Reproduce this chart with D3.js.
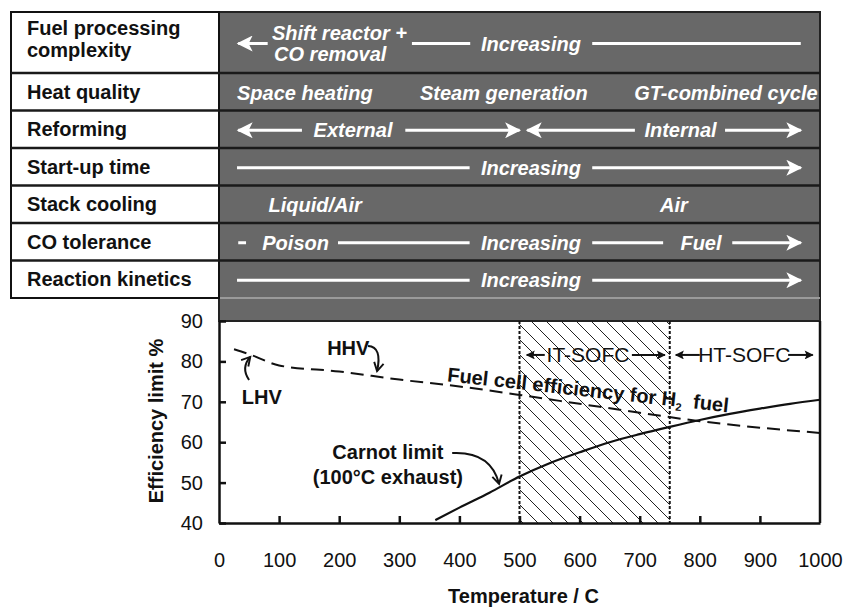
<!DOCTYPE html>
<html>
<head>
<meta charset="utf-8">
<script src="https://cdn.jsdelivr.net/npm/d3@7"></script>
<style>
  body { margin: 0; background: #fff; }
  svg { display: block; font-family: "Liberation Sans", Arial, sans-serif; }
</style>
</head>
<body>
<svg width="844" height="608"></svg>
<script>
// values
const temperature = [25, 50, 100, 200, 300, 400, 500, 600, 700, 800, 900, 1000];
const fuelCellEfficiency = [83, 81.8, 79, 77.5, 75.5, 73.8, 71.7, 69.5, 67.3, 65.2, 63.6, 62.3];
const carnotTemperature = [360, 400, 450, 500, 550, 600, 650, 700, 750, 800, 850, 900, 950, 1000];
const carnotEfficiency = [40.7, 43.8, 47.5, 51.5, 54.8, 57.5, 60, 62, 63.8, 65.5, 67, 68.3, 69.5, 70.5];
const xTicks = [0, 100, 200, 300, 400, 500, 600, 700, 800, 900, 1000];
const yTicks = [40, 50, 60, 70, 80, 90];
const itSofc = [500, 750];
const htSofc = [750, 1000];
const properties = ["Fuel processing|complexity", "Heat quality", "Reforming", "Start-up time",
                    "Stack cooling", "CO tolerance", "Reaction kinetics"];

// what sits in each row of the grey band (positions in °C, along the x axis)
const bandRows = [
  [{ arrow: [81, 32] }, { text: "Shift reactor +", t: 88, a: "start", line: -1 },
   { text: "CO removal", t: 185, a: "middle", line: 1 },
   { seg: [321, 418] }, { text: "Increasing", t: 519 }, { seg: [621, 968] }],
  [{ text: "Space heating", t: 30, a: "start" }, { text: "Steam generation", t: 474 },
   { text: "GT-combined cycle", t: 996, a: "end" }],
  [{ arrow: [138, 32] }, { text: "External", t: 223 }, { arrow: [310, 500] },
   { arrow: [692, 513] }, { text: "Internal", t: 768 }, { arrow: [842, 968] }],
  [{ seg: [30, 417] }, { text: "Increasing", t: 519 }, { arrow: [621, 968] }],
  [{ text: "Liquid/Air", t: 160 }, { text: "Air", t: 757 }],
  [{ seg: [32, 45] }, { text: "Poison", t: 72, a: "start" }, { seg: [198, 417] },
   { text: "Increasing", t: 519 }, { seg: [621, 739] }, { text: "Fuel", t: 802 }, { arrow: [854, 968] }],
  [{ seg: [30, 417] }, { text: "Increasing", t: 519 }, { arrow: [621, 968] }]
];

const svg = d3.select("svg");
const x = d3.scaleLinear().domain([0, 1000]).range([219, 820]);
const y = d3.scaleLinear().domain([40, 90]).range([523, 321]);

const tableLeft = 11, tableTop = 12, tableBottom = 298;
const rowTop = i => i === 0 ? tableTop : 73 + (i - 1) * 37.5;
const rowBottom = i => i === properties.length - 1 ? tableBottom : rowTop(i + 1);
const rowMid = i => (rowTop(i) + rowBottom(i)) / 2;

const defs = svg.append("defs");
defs.append("marker").attr("id", "whiteHead")
  .attr("viewBox", "0 0 10 10").attr("refX", 9).attr("refY", 5)
  .attr("markerUnits", "userSpaceOnUse").attr("markerWidth", 21).attr("markerHeight", 16)
  .attr("orient", "auto")
  .append("path").attr("d", "M0,0 L10,5 L0,10 L2.5,5 z").attr("fill", "#fff");
defs.append("marker").attr("id", "blackHead")
  .attr("viewBox", "0 0 10 10").attr("refX", 9).attr("refY", 5)
  .attr("markerUnits", "userSpaceOnUse").attr("markerWidth", 10).attr("markerHeight", 9)
  .attr("orient", "auto")
  .append("path").attr("d", "M0,0 L10,5 L0,10 L2,5 z").attr("fill", "#111");
defs.append("marker").attr("id", "openHead")
  .attr("viewBox", "0 0 10 10").attr("refX", 8).attr("refY", 5)
  .attr("markerUnits", "userSpaceOnUse").attr("markerWidth", 12).attr("markerHeight", 12)
  .attr("orient", "auto")
  .append("path").attr("d", "M1,1 L8,5 L1,9").attr("fill", "none")
  .attr("stroke", "#111").attr("stroke-width", 1.6);
const hatch = defs.append("pattern").attr("id", "hatch")
  .attr("patternUnits", "userSpaceOnUse").attr("width", 15).attr("height", 15);
hatch.append("path").attr("d", "M-2,-2 L17,17 M-8,7 L8,23 M7,-8 L23,8")
  .attr("stroke", "#222").attr("stroke-width", 1);

// ---- grey band with the trend rows
svg.append("rect")
  .attr("x", x(0)).attr("y", tableTop).attr("width", x(1000) - x(0)).attr("height", y(90) - tableTop)
  .attr("fill", "#686868").attr("stroke", "#222").attr("stroke-width", 2);
svg.append("line")
  .attr("x1", x(0)).attr("x2", x(1000)).attr("y1", tableBottom).attr("y2", tableBottom)
  .attr("stroke", "#9a9a9a").attr("stroke-width", 2);

// left column
svg.append("rect")
  .attr("x", tableLeft).attr("y", tableTop).attr("width", x(0) - tableLeft).attr("height", tableBottom - tableTop)
  .attr("fill", "#fff").attr("stroke", "#111").attr("stroke-width", 2);

properties.forEach((p, i) => {
  if (i > 0) {
    svg.append("line").attr("x1", tableLeft).attr("x2", x(1000))
      .attr("y1", rowTop(i)).attr("y2", rowTop(i))
      .attr("stroke", "#1a1a1a").attr("stroke-width", 2.5);
  }
  const lines = p.split("|");
  lines.forEach((s, k) => {
    const off = lines.length > 1 ? (k === 0 ? -14.5 : 7.5) : 0;
    svg.append("text")
      .attr("x", tableLeft + 16)
      .attr("y", rowMid(i) + off + 7)
      .attr("font-size", 20).attr("font-weight", "bold").attr("fill", "#111")
      .text(s);
  });
});

bandRows.forEach((items, i) => {
  const cy = rowMid(i) + 1;
  items.forEach(d => {
    if (d.text) {
      svg.append("text")
        .attr("x", x(d.t)).attr("y", cy + 7 + (d.line || 0) * 10.5)
        .attr("text-anchor", d.a || "middle")
        .attr("font-size", 20).attr("font-weight", "bold").attr("font-style", "italic")
        .attr("fill", "#fff").text(d.text);
    } else {
      const r = d.seg || d.arrow;
      svg.append("line")
        .attr("x1", x(r[0])).attr("x2", x(r[1])).attr("y1", cy).attr("y2", cy)
        .attr("stroke", "#fff").attr("stroke-width", 3)
        .attr("marker-end", d.arrow ? "url(#whiteHead)" : null);
    }
  });
});

// ---- plot
svg.append("rect")
  .attr("x", x(itSofc[0])).attr("y", y(90)).attr("width", x(itSofc[1]) - x(itSofc[0]))
  .attr("height", y(40) - y(90)).attr("fill", "url(#hatch)");
[itSofc[0], itSofc[1]].forEach(t => {
  svg.append("line").attr("x1", x(t)).attr("x2", x(t)).attr("y1", y(90)).attr("y2", y(40))
    .attr("stroke", "#111").attr("stroke-width", 2).attr("stroke-dasharray", "3,2");
});

const xAxis = svg.append("g").attr("transform", `translate(0,${y(40)})`)
  .call(d3.axisBottom(x).tickValues(xTicks).tickFormat(d3.format("d"))
    .tickSizeInner(-7).tickSizeOuter(0).tickPadding(30));
const yAxis = svg.append("g").attr("transform", `translate(${x(0)},0)`)
  .call(d3.axisLeft(y).tickValues(yTicks).tickSizeInner(-7).tickSizeOuter(0).tickPadding(16));
[xAxis, yAxis].forEach(g => {
  g.select(".domain").attr("stroke", "#111").attr("stroke-width", 2.5);
  g.selectAll(".tick line").attr("stroke", "#111").attr("stroke-width", 2.5);
  g.selectAll(".tick text").attr("font-size", 20).attr("fill", "#111")
    .attr("font-family", "'Liberation Sans', Arial, sans-serif");
});
xAxis.selectAll(".tick").filter(d => d === 0 || d === 1000).select("line").remove();
svg.append("line").attr("x1", x(1000)).attr("x2", x(1000)).attr("y1", y(90)).attr("y2", y(40))
  .attr("stroke", "#111").attr("stroke-width", 2.5);

const line = d3.line().curve(d3.curveMonotoneX);
svg.append("path")
  .attr("d", line(temperature.map((t, i) => [x(t), y(fuelCellEfficiency[i])])))
  .attr("fill", "none").attr("stroke", "#111").attr("stroke-width", 2)
  .attr("stroke-dasharray", "13,7");
svg.append("path")
  .attr("d", line(carnotTemperature.map((t, i) => [x(t), y(carnotEfficiency[i])])))
  .attr("fill", "none").attr("stroke", "#111").attr("stroke-width", 2.2);

// annotations (positions in data units)
const label = (t, v, s, opts = {}) => svg.append("text")
  .attr("x", x(t)).attr("y", y(v)).attr("text-anchor", opts.anchor || "start")
  .attr("font-size", opts.size || 20).attr("font-weight", opts.weight || "bold")
  .attr("fill", "#111").text(s);
const curl = (p0, c, p1) => svg.append("path")
  .attr("d", `M${x(p0[0])},${y(p0[1])} Q${x(c[0])},${y(c[1])} ${x(p1[0])},${y(p1[1])}`)
  .attr("fill", "none").attr("stroke", "#111").attr("stroke-width", 2)
  .attr("marker-end", "url(#openHead)");

label(180, 81.6, "HHV");
curl([248, 83.8], [272, 83.6], [263, 77.6]);
label(38, 69.5, "LHV");
curl([50, 75.4], [36, 78.4], [52, 81.1]);
label(281, 55.8, "Carnot limit", { anchor: "middle" });
label(281, 49.7, "(100°C exhaust)", { anchor: "middle" });
curl([388, 57.3], [452, 57.8], [466, 49.7]);

const fc = svg.append("text")
  .attr("transform", `translate(${x(379)},${y(75.1)}) rotate(6.3)`)
  .attr("font-size", 20).attr("font-weight", "bold").attr("fill", "#111");
fc.append("tspan").text("Fuel cell efficiency for H");
fc.append("tspan").attr("font-size", 11).attr("dy", 4).text("2");
fc.append("tspan").attr("dy", -4).text("\u00a0 fuel");

// SOFC range labels
const sofcY = 81.6;
[["IT-SOFC", [542, 512], 614, [687, 742]], ["HT-SOFC", [800, 760], 874, [947, 988]]].forEach(d => {
  label(d[2], sofcY - 1.7, d[0], { anchor: "middle", weight: "normal", size: 21 });
  [d[1], d[3]].forEach(r => {
    svg.append("line").attr("x1", x(r[0])).attr("x2", x(r[1]))
      .attr("y1", y(sofcY)).attr("y2", y(sofcY))
      .attr("stroke", "#111").attr("stroke-width", 2).attr("marker-end", "url(#blackHead)");
  });
});

// axis titles
svg.append("text").attr("x", (x(0) + x(1000)) / 2 + 4).attr("y", 603)
  .attr("text-anchor", "middle").attr("font-size", 20).attr("font-weight", "bold")
  .attr("fill", "#111").text("Temperature / C");
svg.append("text").attr("transform", `translate(163,${(y(40) + y(90)) / 2 - 1}) rotate(-90)`)
  .attr("text-anchor", "middle").attr("font-size", 20).attr("font-weight", "bold")
  .attr("fill", "#111").text("Efficiency limit %");
</script>
</body>
</html>
